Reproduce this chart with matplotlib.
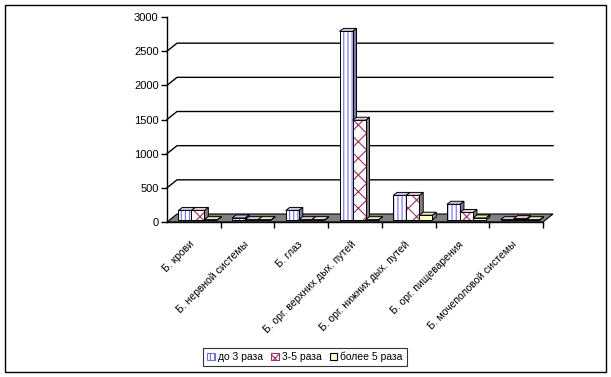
import matplotlib
matplotlib.use("Agg")
import matplotlib.pyplot as plt
from matplotlib.patches import Rectangle, Polygon, Patch

plt.rcParams['font.family'] = ['Liberation Sans', 'DejaVu Sans']
plt.rcParams['hatch.linewidth'] = 0.8

# data
categories = ["Б. крови", "Б. нервной системы", "Б. глаз",
              "Б. орг. верхних дых. путей", "Б. орг. нижних дых. путей",
              "Б. орг. пищеварения", "Б. мочеполовой системы"]
series_names = ["до 3 раза", "3-5 раза", "более 5 раза"]
val_3 = [140, 30, 140, 2760, 360, 230, 5]
val_3_5 = [140, 5, 5, 1460, 360, 110, 20]
val_5 = [5, 5, 5, 5, 70, 30, 5]
yticks = [0, 500, 1000, 1500, 2000, 2500, 3000]

W, H = 611, 377
fig = plt.figure(figsize=(W / 100, H / 100), dpi=100)
ax_l, ax_r, ax_t, ax_b = 167, 543, 17, 222
ax = fig.add_axes([ax_l / W, (H - ax_b) / H, (ax_r - ax_l) / W, (ax_b - ax_t) / H])
ax.set_xlim(-0.5, 6.5)
ax.set_ylim(0, 3000)

# pixels -> data units
px = 7.0 / (ax_r - ax_l)
py = 3000.0 / (ax_b - ax_t)
wall_dx, wall_dy = 10 * px, 8 * py      # back wall offset
bar_ox, bar_oy = 4 * px, 2 * py         # bar front face offset
dep_x, dep_y = 4 * px, 3 * py           # bar depth

# floor
floor = Polygon([(-0.5, 0), (6.5, 0), (6.5 + wall_dx, wall_dy), (-0.5 + wall_dx, wall_dy)],
                closed=True, facecolor="#808080", edgecolor="black", lw=0.8,
                clip_on=False, zorder=1)
ax.add_patch(floor)

# back wall gridlines
for v in yticks[1:-1]:
    ax.plot([-0.5, -0.5 + wall_dx, 6.5 + wall_dx], [v, v + wall_dy, v + wall_dy],
            color="black", lw=1, clip_on=False, zorder=0.5)

styles = [
    dict(face="white", hatch="||||", hcol="#7070e0", top="#c8c8e8", side="#7878a0"),
    dict(face="white", hatch="xx", hcol="#993366", top="#e8c8d8", side="#8a7a80"),
    dict(face="#ffffcc", hatch=None, hcol="#ffffcc", top="#e8e8c0", side="#909080"),
]
series = [val_3, val_3_5, val_5]
bw = 13 * px

z = 2
for i in range(len(categories)):
    for j, vals in enumerate(series):
        s = styles[j]
        v = vals[i]
        x0 = i - 1.5 * bw + j * bw + bar_ox
        y0 = bar_oy
        # side face
        ax.add_patch(Polygon([(x0 + bw, y0), (x0 + bw + dep_x, y0 + dep_y),
                              (x0 + bw + dep_x, y0 + v + dep_y), (x0 + bw, y0 + v)],
                             closed=True, facecolor=s["side"], edgecolor="black",
                             lw=0.7, clip_on=False, zorder=z))
        # top face
        ax.add_patch(Polygon([(x0, y0 + v), (x0 + bw, y0 + v),
                              (x0 + bw + dep_x, y0 + v + dep_y), (x0 + dep_x, y0 + v + dep_y)],
                             closed=True, facecolor=s["top"], edgecolor="black",
                             lw=0.7, clip_on=False, zorder=z))
        # front face
        ax.bar(x0, v, width=bw, bottom=y0, align="edge", color=s["face"],
               hatch=s["hatch"], edgecolor=s["hcol"], lw=0, zorder=z + 0.1, clip_on=False)
        ax.bar(x0, v, width=bw, bottom=y0, align="edge", fill=False,
               edgecolor="black", lw=0.7, zorder=z + 0.2, clip_on=False)
        z += 1

for sp in ["top", "right"]:
    ax.spines[sp].set_visible(False)
ax.spines["left"].set_linewidth(1)
ax.spines["bottom"].set_linewidth(1)
ax.spines["left"].set_zorder(100)
ax.spines["bottom"].set_zorder(100)

ax.set_yticks(yticks)
ax.set_yticklabels([str(t) for t in yticks], fontsize=8)
ax.tick_params(axis="y", direction="out", length=4, width=1, pad=2)

ax.set_xticks([k + 0.5 for k in range(7)], minor=False)
ax.set_xticklabels([])
ax.tick_params(axis="x", direction="out", length=4, width=1)
for i, name in enumerate(categories):
    ax.text(i - 0.08, -250, name, rotation=45, ha="right", va="top",
            rotation_mode="anchor", fontsize=7.5)

handles = [Patch(facecolor=styles[j]["face"], hatch=styles[j]["hatch"],
                 edgecolor=styles[j]["hcol"] if j < 2 else "black", lw=0.8)
           for j in range(3)]
leg = fig.legend(handles, series_names, loc="center", ncol=3,
                 bbox_to_anchor=(305 / W, 1 - 357 / H), fontsize=7.5,
                 frameon=True, fancybox=False, handlelength=0.7, handleheight=0.7,
                 handletextpad=0.3, columnspacing=0.8, borderpad=0.4)
leg.get_frame().set_edgecolor("black")
leg.get_frame().set_linewidth(0.8)

# outer border
fig.add_artist(Rectangle((5 / W, 5 / H), 601 / W, 367 / H, transform=fig.transFigure,
                         fill=False, edgecolor="black", lw=1))

fig.savefig("out.png", dpi=100)
